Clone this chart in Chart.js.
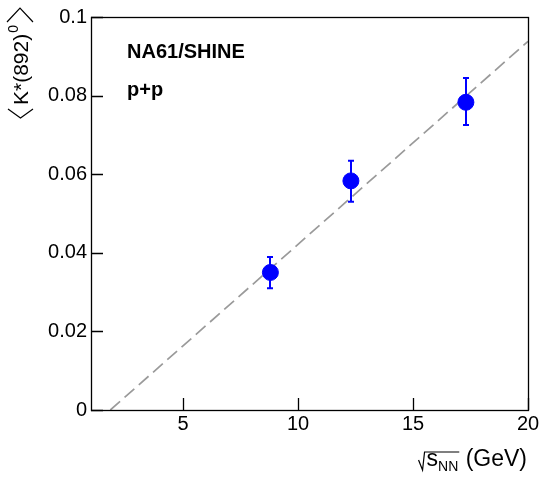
<!DOCTYPE html>
<html>
<head>
<meta charset="utf-8">
<script src="https://cdn.jsdelivr.net/npm/chart.js@4.4.1/dist/chart.umd.min.js"></script>
<style>
  html, body { margin: 0; padding: 0; background: #ffffff; }
</style>
</head>
<body>
<canvas id="myChart" width="540" height="482"></canvas>
<script>
// measured points (sqrt(s_NN) in GeV, <K*(892)0> yield)
const energies = [8.8, 12.3, 17.3];
const yieldVals = [0.0350, 0.0583, 0.0783];
const errLow = [0.0310, 0.0530, 0.0725];
const errHigh = [0.0389, 0.0634, 0.0845];

// dashed linear fit, end points
const fitX = [1.84, 20];
const fitY = [0, 0.0938];

const xTicks = [5, 10, 15, 20];
const yTicks = [0, 0.02, 0.04, 0.06, 0.08, 0.1];

const FONT = '"Liberation Sans", Arial, sans-serif';

// frame, inward ticks, error bars and the ROOT-like labels
const decorPlugin = {
  id: 'decor',
  afterDatasetsDraw(chart) {
    const { ctx, scales: { x, y } } = chart;
    ctx.save();
    ctx.strokeStyle = '#0000ff';
    ctx.lineWidth = 2;
    energies.forEach((e, i) => {
      const px = Math.round(x.getPixelForValue(e));
      const yt = y.getPixelForValue(errHigh[i]);
      const yb = y.getPixelForValue(errLow[i]);
      ctx.beginPath();
      ctx.moveTo(px, yt); ctx.lineTo(px, yb);
      ctx.moveTo(px - 3, yt); ctx.lineTo(px + 3, yt);
      ctx.moveTo(px - 3, yb); ctx.lineTo(px + 3, yb);
      ctx.stroke();
    });
    ctx.restore();
  },
  afterDraw(chart) {
    const { ctx, chartArea: a, scales: { x, y } } = chart;
    ctx.save();
    ctx.strokeStyle = '#000000';
    ctx.lineWidth = 1.3;
    ctx.strokeRect(a.left + 0.5, a.top + 0.5, a.right - a.left, a.bottom - a.top);

    ctx.beginPath();
    xTicks.forEach(v => {
      const px = Math.round(x.getPixelForValue(v)) + 0.5;
      ctx.moveTo(px, a.bottom); ctx.lineTo(px, a.bottom - 12);
    });
    yTicks.forEach(v => {
      const py = Math.round(y.getPixelForValue(v)) + 0.5;
      ctx.moveTo(a.left, py); ctx.lineTo(a.left + 12, py);
    });
    ctx.stroke();

    // labels inside the frame
    ctx.fillStyle = '#000000';
    ctx.textAlign = 'left';
    ctx.textBaseline = 'alphabetic';
    ctx.font = 'bold 20px ' + FONT;
    ctx.fillText('NA61/SHINE', 127, 58);
    ctx.fillText('p+p', 127, 96);

    // x title: sqrt(s_NN) (GeV), right aligned
    const by = 466;
    ctx.font = '23px ' + FONT;
    const wS = ctx.measureText('s').width;
    const wG = ctx.measureText(' (GeV)').width;
    ctx.font = '14px ' + FONT;
    const wN = ctx.measureText('NN').width;
    const total = 8 + wS + wN + 1 + wG;
    const x0 = 527 - total;
    ctx.lineWidth = 1.2;
    ctx.beginPath();
    ctx.moveTo(x0, by - 6);
    ctx.lineTo(x0 + 4, by + 4);
    ctx.lineTo(x0 + 6, by - 14);
    ctx.lineTo(x0 + 8 + wS + wN + 1, by - 14);
    ctx.stroke();
    ctx.font = '23px ' + FONT;
    ctx.fillText('s', x0 + 8, by);
    ctx.font = '14px ' + FONT;
    ctx.fillText('NN', x0 + 8 + wS, by + 5);
    ctx.font = '23px ' + FONT;
    ctx.fillText(' (GeV)', x0 + 8 + wS + wN + 1, by);

    // y title: <K*(892)^0>, rotated
    ctx.translate(28, 120);
    ctx.rotate(-Math.PI / 2);
    ctx.lineWidth = 1.2;
    ctx.beginPath();
    ctx.moveTo(11, -20); ctx.lineTo(2, -7.5); ctx.lineTo(11, 5);
    ctx.stroke();
    ctx.font = '21px ' + FONT;
    ctx.fillText('K*(892)', 15, 0);
    const wK = ctx.measureText('K*(892)').width;
    ctx.font = '14px ' + FONT;
    ctx.fillText('0', 15 + wK + 1, -10);
    const wZ = ctx.measureText('0').width;
    const bx = 15 + wK + wZ + 4;
    ctx.beginPath();
    ctx.moveTo(bx, -21); ctx.lineTo(bx + 14, -8); ctx.lineTo(bx, 5);
    ctx.stroke();
    ctx.restore();
  }
};

const ctx = document.getElementById('myChart').getContext('2d');

new Chart(ctx, {
  type: 'scatter',
  data: {
    datasets: [
      {
        type: 'line',
        data: fitX.map((v, i) => ({ x: v, y: fitY[i] })),
        borderColor: '#9a9a9a',
        borderWidth: 1.7,
        borderDash: [13, 6],
        pointRadius: 0,
        fill: false,
        order: 2
      },
      {
        data: energies.map((v, i) => ({ x: v, y: yieldVals[i] })),
        backgroundColor: '#0000ff',
        borderColor: '#0000ff',
        pointRadius: 8,
        pointHoverRadius: 8,
        order: 1
      }
    ]
  },
  options: {
    responsive: false,
    animation: false,
    events: [],
    layout: { padding: { top: 17, right: 12, left: 0, bottom: 0 } },
    plugins: {
      legend: { display: false },
      tooltip: { enabled: false }
    },
    scales: {
      x: {
        type: 'linear',
        min: 1,
        max: 20,
        grid: { display: false, drawTicks: false },
        border: { display: false },
        afterBuildTicks: s => { s.ticks = xTicks.map(v => ({ value: v })); },
        afterFit: s => { s.height = 72; s.paddingLeft = 0; s.paddingRight = 0; },
        ticks: { color: '#000000', font: { family: FONT, size: 20 }, padding: 2, maxRotation: 0 }
      },
      y: {
        type: 'linear',
        min: 0,
        max: 0.1,
        grid: { display: false, drawTicks: false },
        border: { display: false },
        afterBuildTicks: s => { s.ticks = yTicks.map(v => ({ value: v })); },
        afterFit: s => { s.width = 91; s.paddingTop = 0; s.paddingBottom = 0; },
        ticks: {
          color: '#000000',
          font: { family: FONT, size: 20 },
          padding: 4,
          callback: v => String(+v.toFixed(2))
        }
      }
    }
  },
  plugins: [decorPlugin]
});
</script>
</body>
</html>
